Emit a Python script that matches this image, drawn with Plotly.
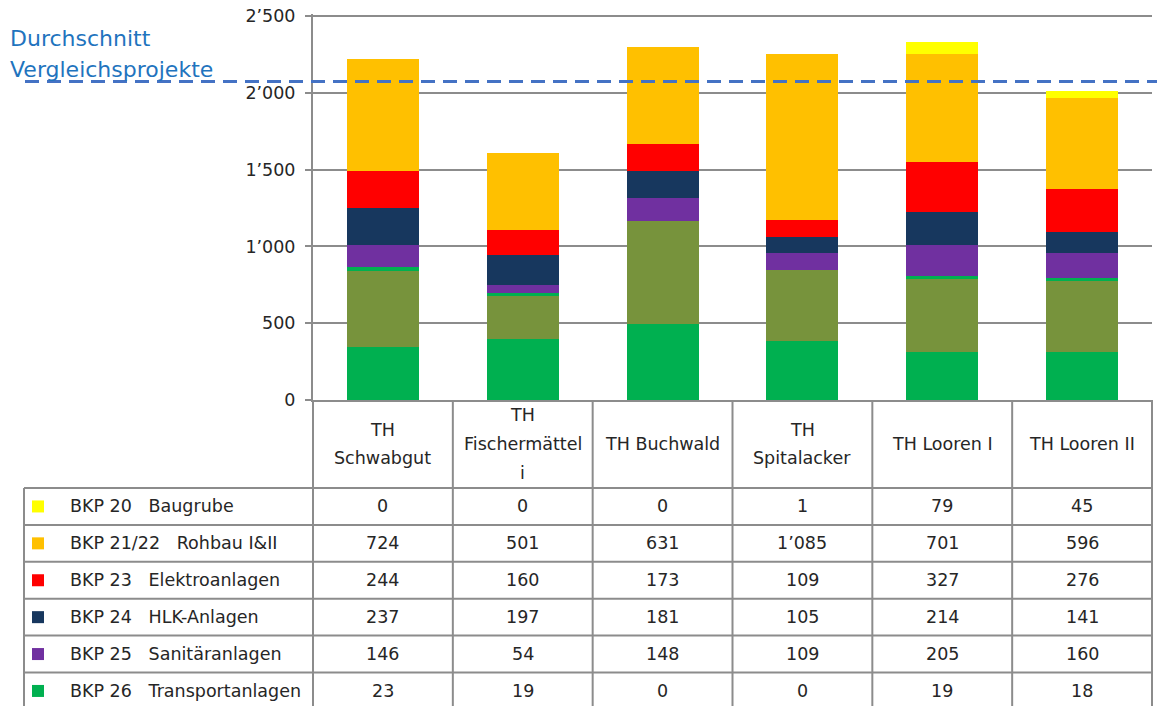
import plotly.graph_objects as go

# ---------------- data ----------------
categories = ["TH Schwabgut", "TH Fischermätteli", "TH Buchwald",
              "TH Spitalacker", "TH Looren I", "TH Looren II"]
header_lines = [["TH", "Schwabgut"], ["TH", "Fischermättel", "i"], ["TH Buchwald"],
                ["TH", "Spitalacker"], ["TH Looren I"], ["TH Looren II"]]

bkp20 = [0, 0, 0, 1, 79, 45]
bkp21 = [724, 501, 631, 1085, 701, 596]
bkp23 = [244, 160, 173, 109, 327, 276]
bkp24 = [237, 197, 181, 105, 214, 141]
bkp25 = [146, 54, 148, 109, 205, 160]
bkp26 = [23, 19, 0, 0, 19, 18]
# series below the visible table rows (estimated from the bars)
bkp27 = [500, 280, 672, 460, 472, 464]
bkp28 = [343, 395, 492, 386, 314, 314]

average_value = 2073
average_label = ["Durchschnitt", "Vergleichsprojekte"]

y_ticks = [0, 500, 1000, 1500, 2000, 2500]

# (label, values, color) from top of table to bottom
table_rows = [
    ("BKP 20\u00a0\u00a0\u00a0Baugrube", bkp20, "#FFFF00"),
    ("BKP 21/22\u00a0\u00a0\u00a0Rohbau I&II", bkp21, "#FFC000"),
    ("BKP 23\u00a0\u00a0\u00a0Elektroanlagen", bkp23, "#FF0000"),
    ("BKP 24\u00a0\u00a0\u00a0HLK-Anlagen", bkp24, "#17375E"),
    ("BKP 25\u00a0\u00a0\u00a0Sanitäranlagen", bkp25, "#7030A0"),
    ("BKP 26\u00a0\u00a0\u00a0Transportanlagen", bkp26, "#00B050"),
]
hidden_rows = [
    ("BKP 27", bkp27, "#77933C"),
    ("BKP 28", bkp28, "#00B050"),
]


def fmt(v):
    return f"{v:,}".replace(",", "\u2019")


# ---------------- layout geometry (reference pixels) ----------------
REF_W, REF_H = 1157, 706
PL, PR, PT, PB = 313, 1152, 14, 400
TOP_TICK_Y = 16        # pixel row of the top tick (2'500)
W, H = PR - PL, PB - PT
Y_MAX = y_ticks[-1] * (PB - PT) / (PB - TOP_TICK_Y)


def px(x):
    return (x - PL) / W


def py(y):
    return (PB - y) / H


FONT = "DejaVu Sans"
FS = 17.5
TXT = "#262626"
GRID = "#8C8C8C"

fig = go.Figure()
stack = list(reversed(table_rows + hidden_rows))  # bottom first
for name, vals, col in stack:
    fig.add_trace(go.Bar(x=categories, y=vals, name=name.replace("\u00a0", " "),
                         marker=dict(color=col, line=dict(width=0)),
                         showlegend=False))

shapes = []
annotations = []

# average dashed line
shapes.append(dict(type="line", xref="paper", yref="y",
                   x0=px(25), x1=px(1165), y0=average_value, y1=average_value,
                   line=dict(color="#4472C4", width=3, dash="14px,8px"), layer="above"))
for i, t in enumerate(average_label):
    annotations.append(dict(text=t, xref="paper", yref="paper", x=px(8), y=py(38 + 32 * i),
                            xanchor="left", yanchor="middle", showarrow=False,
                            font=dict(family=FONT, size=22, color="#1F74BE")))

# table geometry
n = len(categories)
HEAD_BOT = 488
ROW_H = 36.9
row_tops = [HEAD_BOT + k * ROW_H for k in range(len(table_rows) + 1)]
BOTTOM = 740
LEFT = 24

line_style = dict(color=GRID, width=2)
# vertical column lines
for k in range(n + 1):
    xx = k / n
    shapes.append(dict(type="line", xref="paper", yref="paper", x0=xx, x1=xx,
                       y0=py(PB), y1=py(BOTTOM), line=line_style))
# left border of label column
shapes.append(dict(type="line", xref="paper", yref="paper", x0=px(LEFT), x1=px(LEFT),
                   y0=py(HEAD_BOT), y1=py(BOTTOM), line=line_style))
# horizontal row lines
for yt in row_tops:
    shapes.append(dict(type="line", xref="paper", yref="paper", x0=px(LEFT), x1=1,
                       y0=py(yt), y1=py(yt), line=line_style))

# header text
LINE_SP = 28.5
for cat, lines in zip(categories, header_lines):
    mid = (PB + HEAD_BOT) / 2
    for j, t in enumerate(lines):
        yc = mid + (j - (len(lines) - 1) / 2) * LINE_SP
        annotations.append(dict(text=t, xref="x", yref="paper", x=cat, y=py(yc),
                                xanchor="center", yanchor="middle", showarrow=False,
                                font=dict(family=FONT, size=FS, color=TXT)))

# data rows
for r, (label, vals, col) in enumerate(table_rows):
    yc = row_tops[r] + ROW_H / 2
    shapes.append(dict(type="rect", xref="paper", yref="paper",
                       x0=px(32), x1=px(44), y0=py(yc - 6), y1=py(yc + 6),
                       fillcolor=col, line=dict(width=0)))
    annotations.append(dict(text=label, xref="paper", yref="paper", x=px(68), y=py(yc),
                            xanchor="left", yanchor="middle", showarrow=False,
                            font=dict(family=FONT, size=FS, color=TXT)))
    for cat, v in zip(categories, vals):
        annotations.append(dict(text=fmt(v), xref="x", yref="paper", x=cat, y=py(yc),
                                xanchor="center", yanchor="middle", showarrow=False,
                                font=dict(family=FONT, size=FS, color=TXT)))

fig.update_layout(
    width=REF_W, height=REF_H,
    margin=dict(l=PL, r=REF_W - PR, t=PT, b=REF_H - PB, pad=0),
    paper_bgcolor="white", plot_bgcolor="white",
    barmode="stack", bargap=0.485,
    shapes=shapes, annotations=annotations,
    xaxis=dict(range=[-0.5, n - 0.5], showticklabels=False, showgrid=False,
               showline=True, linecolor=GRID, linewidth=2, ticks="", zeroline=False,
               fixedrange=True),
    yaxis=dict(range=[0, Y_MAX], tickvals=y_ticks, ticktext=[fmt(v) for v in y_ticks],
               showgrid=True, gridcolor=GRID, gridwidth=2,
               showline=True, linecolor=GRID, linewidth=2,
               ticks="outside", ticklen=6, tickcolor=GRID, tickwidth=2,
               ticklabelstandoff=6, zeroline=False,
               tickfont=dict(family=FONT, size=FS, color=TXT), fixedrange=True),
    font=dict(family=FONT),
    hovermode=False,
)

fig.write_html("out.html",
               config={"displayModeBar": False, "staticPlot": True},
               post_script="document.body.style.margin='0px';"
                           "document.body.style.overflow='hidden';")
